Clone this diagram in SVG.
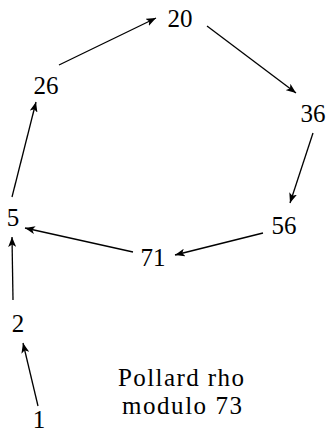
<svg xmlns="http://www.w3.org/2000/svg" width="329" height="434" viewBox="0 0 329 434">
<style>
text{font-family:"Liberation Serif","DejaVu Serif","Times New Roman",serif;font-size:25px;fill:#000;text-anchor:middle}
.e{stroke:#000;stroke-width:1.3;fill:none;marker-end:url(#ah)}
</style>
<defs>
<marker id="ah" viewBox="0 0 10 8" refX="10" refY="4" markerWidth="10" markerHeight="8" markerUnits="userSpaceOnUse" orient="auto">
<path d="M0,0 L10,4 L0,8 L2.5,4 Z" fill="#000"/>
</marker>
</defs>
<rect width="329" height="434" fill="#fff"/>
<g id="connectors">
<line class="e" x1="38" y1="406" x2="23" y2="343"/>
<line class="e" x1="13" y1="300" x2="12" y2="237"/>
<line class="e" x1="12" y1="197" x2="36" y2="102"/>
<line class="e" x1="59" y1="65" x2="156" y2="18"/>
<line class="e" x1="207" y1="26" x2="296" y2="93"/>
<line class="e" x1="313" y1="133" x2="290" y2="203"/>
<line class="e" x1="263" y1="233" x2="175" y2="255"/>
<line class="e" x1="133" y1="252" x2="25" y2="228"/>
</g>
<g id="n20"><text x="180" y="27">20</text></g>
<g id="n26"><text x="46" y="94">26</text></g>
<g id="n36"><text x="313" y="122">36</text></g>
<g id="n56"><text x="284" y="234">56</text></g>
<g id="n71"><text x="153" y="266">71</text></g>
<g id="n5"><text x="13" y="226">5</text></g>
<g id="n2"><text x="18" y="332">2</text></g>
<g id="n1"><text x="39" y="428">1</text></g>
<g id="label">
<text x="181" y="386" textLength="126" lengthAdjust="spacing">Pollard rho</text>
<text x="182" y="414" textLength="120" lengthAdjust="spacing">modulo 73</text>
</g>
</svg>
